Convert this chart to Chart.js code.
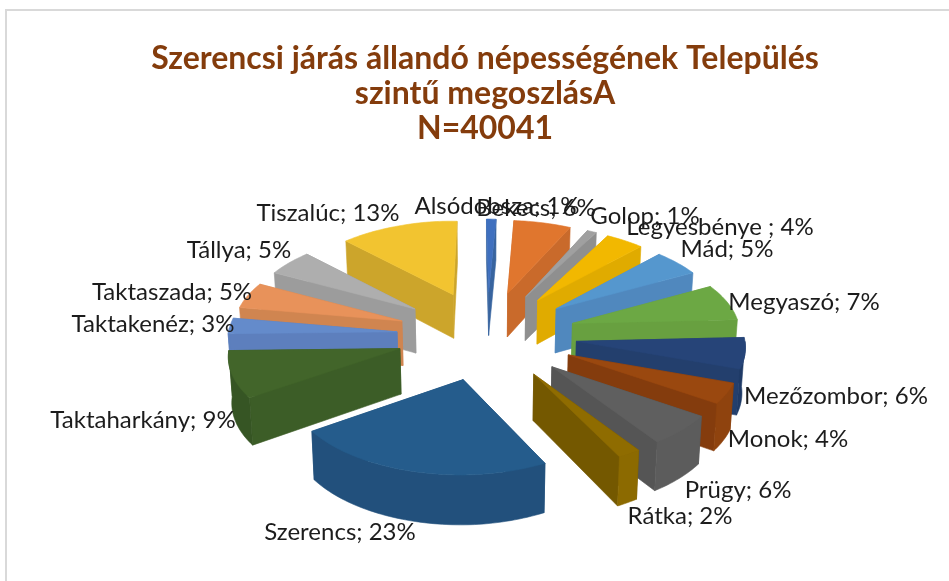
<!DOCTYPE html>
<html><head><meta charset="utf-8">
<style>
html,body{margin:0;padding:0;background:#fff;overflow:hidden}
#wrap{position:relative;width:949px;height:581px}
#frame{position:absolute;left:5px;top:9px;right:-5px;bottom:-5px;border-left:2px solid #d9d9d9;border-top:2px solid #d9d9d9}
canvas{position:absolute;left:0;top:0}
</style>
<script src="https://cdn.jsdelivr.net/npm/chart.js@4"></script>
</head><body>
<div id="wrap"><div id="frame"></div><canvas id="c" width="949" height="581"></canvas></div>
<script>
const categories = ["Alsódobsza","Bekecs","Golop","Legyesbénye ","Mád","Megyaszó","Mezőzombor","Monok","Prügy","Rátka","Szerencs","Taktaharkány","Taktakenéz","Taktaszada","Tállya","Tiszalúc"];
const shares = [1,6,1,4,5,7,6,4,6,2,23,9,3,5,5,13];
const titleLines = ["Szerencsi járás állandó népességének Település","szintű megoszlásA","N=40041"];

const topColors  = ["#3f70bf","#e0762e","#a0a0a0","#f2b800","#5597ce","#6ca844","#264478","#9a480f","#5f5f5f","#8f6c00","#255c8c","#42652a","#648bcb","#e8925a","#aeaeae","#f2c430"];
const cutColors  = ["#38649f","#c96a2b","#8f8f8f","#e0ab00","#5088be","#68a040","#233f6d","#843c0d","#555555","#745800","#22507c","#3c5d27","#5d7fbd","#d08550","#9c9c9c","#cca52b"];
const rimColors  = ["#38649f","#c96a2b","#8f8f8f","#e0ab00","#5088be","#68a040","#1f3a66","#8f430e","#5c5c5c","#8c6a00","#22507c","#365524","#5d7fbd","#d08550","#9c9c9c","#cca52b"];

/* label centres for the data labels */
const labelCentres = [[497,206],[536,208],[645,216],[720,227],[727,249],[804,302],[836,396],[788,439],[738,490],[680,516],[340,532],[143,420],[153,324],[172,292],[239,250],[328,213]];

/* perspective view of the pie */
const view = {cx:487, cy:335, tilt:0.494, dist:2600, depth:45, radius:168};

function project(u,v,z){
  const s = 1/(1 - v/view.dist);
  const k = 1 - z*0.0003;
  /* the reference camera sits slightly off axis */
  let dx;
  if(v>0) dx = -0.04*v;
  else if(u<0) dx = -0.03*v*Math.min(1,-u/100);
  else dx = 0.012*v;
  const dy = u<0 ? 0.02*u : 0.008*u;
  return [view.cx + u*s*k + dx, view.cy + (view.tilt*v + z)*s + dy];
}
function poly(ctx,pts,fill){
  ctx.beginPath();
  pts.forEach((p,i)=> i?ctx.lineTo(p[0],p[1]):ctx.moveTo(p[0],p[1]));
  ctx.closePath();
  ctx.fillStyle=fill; ctx.strokeStyle=fill; ctx.lineWidth=0.6;
  ctx.fill(); ctx.stroke();
}

const pie3d = {
  id:'pie3d',
  beforeDatasetsDraw(chart){
    const ctx = chart.ctx;
    const arcs = chart.getDatasetMeta(0).data;
    const order = arcs.map((a,i)=>i).sort((a,b)=>{
      const m=e=>Math.sin((arcs[e].startAngle+arcs[e].endAngle)/2);
      return m(a)-m(b);
    });
    ctx.save();
    order.forEach(i=>{
      const a = arcs[i];
      const k = view.radius / a.outerRadius;
      const r = a.outerRadius*k;
      const mid = (a.startAngle+a.endAngle)/2;
      const off = a.options.offset*k;
      const ou = off*Math.cos(mid), ov = off*Math.sin(mid);
      const rimAt = t => [ou+r*Math.cos(t), ov+r*Math.sin(t)];
      const quad = (p,q) => [project(p[0],p[1],0),project(q[0],q[1],0),project(q[0],q[1],view.depth),project(p[0],p[1],view.depth)];
      const apex=[ou,ov], s=rimAt(a.startAngle), e=rimAt(a.endAngle);
      const faces=[[apex,s],[apex,e]].sort((f,g)=>(f[0][1]+f[1][1])-(g[0][1]+g[1][1]));
      faces.forEach(f=>poly(ctx,quad(f[0],f[1]),cutColors[i]));
      const steps = Math.max(2,Math.ceil((a.endAngle-a.startAngle)/0.025));
      const top=[project(ou,ov,0)];
      const upper=[], lower=[];
      for(let n=0;n<=steps;n++){
        const t=a.startAngle+(a.endAngle-a.startAngle)*n/steps;
        const p=rimAt(t); top.push(project(p[0],p[1],0));
        if(Math.sin(t)>-0.02){ upper.push(project(p[0],p[1],0)); lower.push(project(p[0],p[1],view.depth)); }
      }
      if(upper.length>1) poly(ctx,upper.concat(lower.reverse()),rimColors[i]);
      poly(ctx,top,topColors[i]);
    });
    ctx.restore();
    return false;
  },
  afterDraw(chart){
    const ctx=chart.ctx;
    ctx.save();
    ctx.font='24px Lato';
    ctx.fillStyle='#1c1c1c';
    ctx.textAlign='center';ctx.textBaseline='middle';
    const d=chart.data.datasets[0].data;
    chart.data.labels.forEach((l,i)=>ctx.fillText(l+'; '+d[i]+'%',labelCentres[i][0],labelCentres[i][1]));
    ctx.restore();
  }
};

new Chart(document.getElementById('c'),{
  type:'pie',
  data:{labels:categories,datasets:[{data:shares,backgroundColor:topColors,borderWidth:0,offset:90}]},
  options:{
    responsive:false,animation:false,
    layout:{padding:{left:21,top:0}},
    plugins:{
      legend:{display:false},tooltip:{enabled:false},
      title:{display:true,text:titleLines,color:'#843c0c',align:'center',
        font:{family:'Lato',size:32,weight:'bold',lineHeight:1.09},padding:{top:41,bottom:10}}
    }
  },
  plugins:[pie3d]
});
</script>
</body></html>
